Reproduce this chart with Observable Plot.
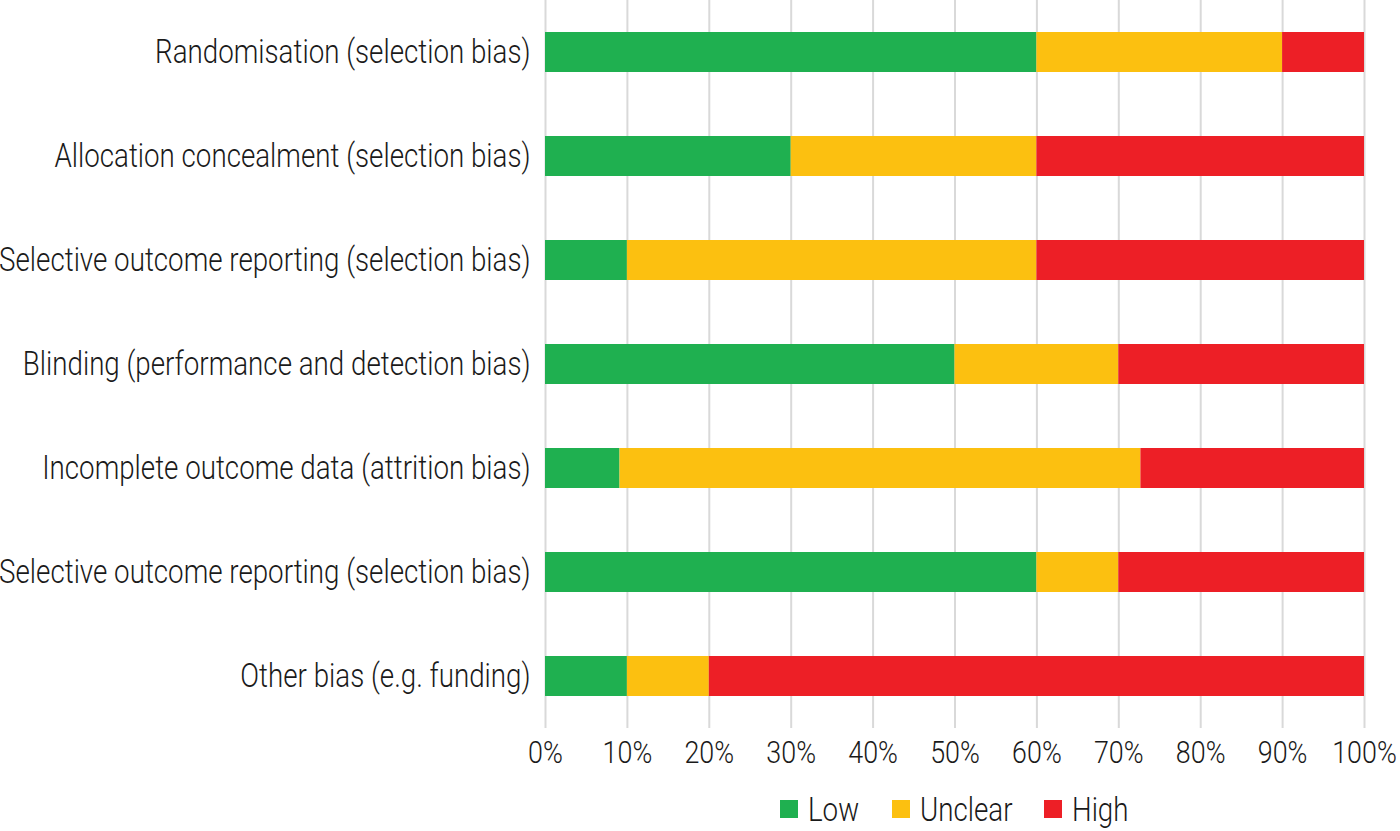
<!DOCTYPE html>
<html>
<head>
<meta charset="utf-8">
<script src="https://cdn.jsdelivr.net/npm/d3@7"></script>
<script src="https://cdn.jsdelivr.net/npm/@observablehq/plot@0.6"></script>
<style>
  html, body { margin: 0; padding: 0; background: #fff; }
  body { width: 1400px; height: 831px; overflow: hidden; font-family: Roboto, sans-serif; font-weight: 300; }
  #legend { display: flex; justify-content: center; align-items: center; padding-left: 545px; padding-right: 36px; height: 62px; gap: 32px; font-size: 33px; color: #1a1a1a; }
  #legend .item { display: flex; align-items: center; gap: 10px; }
  #legend .sw { width: 18px; height: 18px; display: inline-block; }
  #legend .tx { display: inline-block; white-space: nowrap; transform-origin: left center; }
</style>
</head>
<body>
<div id="chart"></div>
<div id="legend"></div>
<script>
const categories = [
  "Randomisation (selection bias)",
  "Allocation concealment (selection bias)",
  "Selective outcome reporting (selection bias)",
  "Blinding (performance and detection bias)",
  "Incomplete outcome data (attrition bias)",
  "Selective outcome reporting (selection bias)",
  "Other bias (e.g. funding)"
];
const series = ["Low", "Unclear", "High"];
const colors = ["#1fb050", "#fcc010", "#ed1f26"];
const lowValues = [60, 30, 10, 50, 9.1, 60, 10];
const unclearValues = [30, 30, 50, 20, 63.6, 10, 10];
const highValues = [10, 40, 40, 30, 27.3, 30, 80];
const xTicks = [0, 10, 20, 30, 40, 50, 60, 70, 80, 90, 100];

const condense = 0.84;
const fontStack = 'Roboto, sans-serif';

const valuesBySeries = [lowValues, unclearValues, highValues];
const data = [];
categories.forEach((c, i) => {
  series.forEach((s, j) => {
    data.push({idx: i, risk: s, value: valuesBySeries[j][i]});
  });
});

const chart = Plot.plot({
  width: 1400,
  height: 778,
  marginLeft: 545,
  marginRight: 36,
  marginTop: 0,
  marginBottom: 50,
  style: {fontFamily: fontStack, fontWeight: 300, fontSize: "33px", color: "#1a1a1a", background: "#fff"},
  x: {domain: [0, 100], label: null},
  y: {domain: d3.range(categories.length), label: null, paddingInner: 0.615, paddingOuter: 0.3075},
  color: {domain: series, range: colors},
  marks: [
    Plot.gridX(xTicks, {stroke: "#d9d9d9", strokeOpacity: 1, strokeWidth: 2}),
    Plot.barX(data, Plot.stackX({y: "idx", x: "value", fill: "risk", order: series})),
    Plot.axisX({ticks: xTicks, tickFormat: d => d + "%", tickSize: 0, tickPadding: 12, fontSize: 32, label: null}),
    Plot.axisY({tickFormat: i => categories[i], tickSize: 0, tickPadding: 15, fontSize: 33, label: null})
  ]
});
document.getElementById("chart").appendChild(chart);

// emulate a condensed face
chart.querySelectorAll("text").forEach(t => {
  const len = t.getComputedTextLength();
  if (len > 0) {
    t.setAttribute("textLength", (len * condense).toFixed(1));
    t.setAttribute("lengthAdjust", "spacingAndGlyphs");
  }
});

const legend = document.getElementById("legend");
series.forEach((s, j) => {
  const item = document.createElement("div");
  item.className = "item";
  const sw = document.createElement("span");
  sw.className = "sw";
  sw.style.background = colors[j];
  const wrap = document.createElement("span");
  wrap.style.display = "inline-block";
  const t = document.createElement("span");
  t.className = "tx";
  t.textContent = s;
  wrap.appendChild(t);
  item.appendChild(sw);
  item.appendChild(wrap);
  legend.appendChild(item);
  const w = t.getBoundingClientRect().width;
  wrap.style.width = (w * condense) + "px";
  t.style.transform = `scaleX(${condense})`;
});
</script>
</body>
</html>
